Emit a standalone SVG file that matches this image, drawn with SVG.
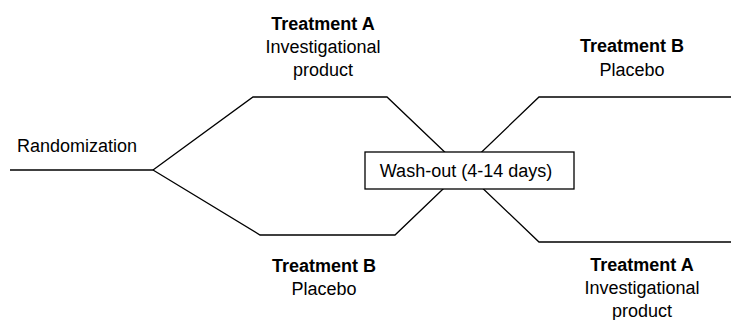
<svg xmlns="http://www.w3.org/2000/svg" width="731" height="320" viewBox="0 0 731 320">
<style>
text{font-family:"Liberation Sans",Arial,sans-serif;font-size:18px;fill:#000}
.b{font-weight:bold}
.c{text-anchor:middle}
.ln{fill:none;stroke:#000;stroke-width:1.3}
</style>
<rect width="731" height="320" fill="#fff"/>
<g id="connectors">
<polyline class="ln" points="10,170 153,170"/>
<polyline class="ln" points="153,170 253,97 387,97 539,242 731,242"/>
<polyline class="ln" points="153,170 260,235 395,235 539,97 731,97"/>
</g>
<g id="randomization">
<text x="17" y="152">Randomization</text>
</g>
<g id="washout">
<rect x="365" y="152" width="209" height="37" fill="#fff" stroke="#000" stroke-width="1.3"/>
<text class="c" x="466" y="177">Wash-out (4-14 days)</text>
</g>
<g id="treatA1">
<text class="c b" x="323" y="30">Treatment A</text>
<text class="c" x="323" y="53">Investigational</text>
<text class="c" x="323" y="76">product</text>
</g>
<g id="treatB1">
<text class="c b" x="632" y="52">Treatment B</text>
<text class="c" x="632" y="76">Placebo</text>
</g>
<g id="treatB2">
<text class="c b" x="324" y="272">Treatment B</text>
<text class="c" x="324" y="295">Placebo</text>
</g>
<g id="treatA2">
<text class="c b" x="642" y="271">Treatment A</text>
<text class="c" x="642" y="294">Investigational</text>
<text class="c" x="642" y="317">product</text>
</g>
</svg>
